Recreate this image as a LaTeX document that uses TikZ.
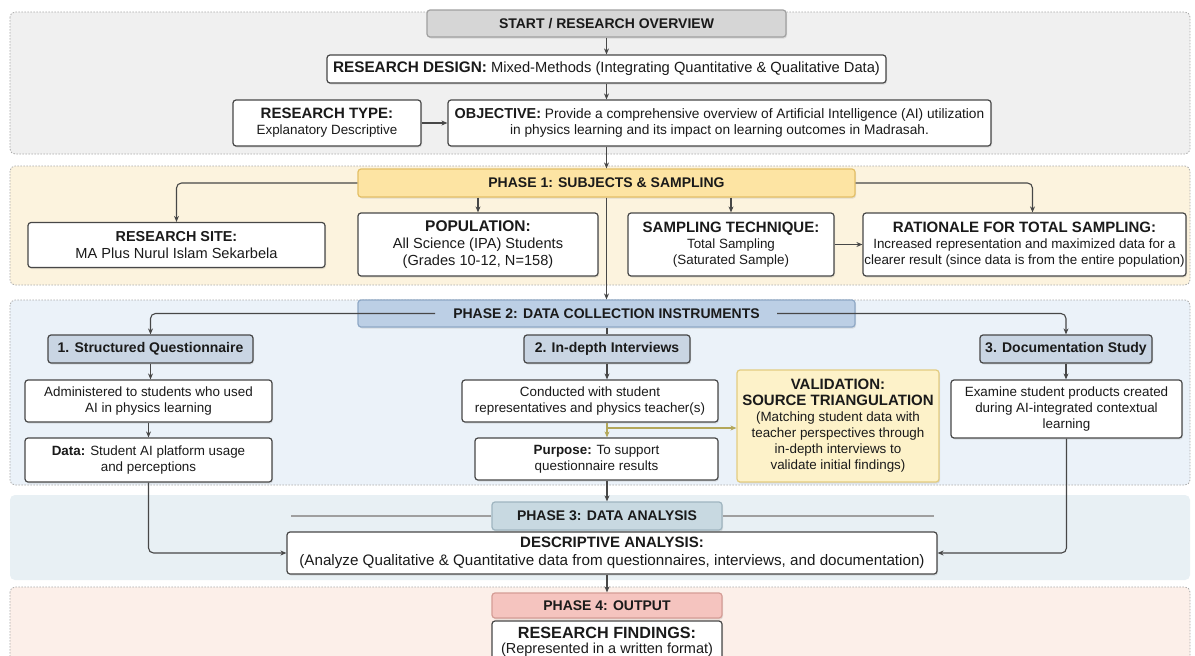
\documentclass[tikz,border=0pt]{standalone}
\usepackage{fontspec}
\setmainfont{Liberation Sans}
\usetikzlibrary{arrows.meta,shadows,calc}
\definecolor{bordc}{HTML}{474747}
\definecolor{pnlA}{HTML}{F0F0F0}
\definecolor{pnlB}{HTML}{FCF3DE}
\definecolor{pnlC}{HTML}{EBF2F9}
\definecolor{pnlD}{HTML}{E8F0F4}
\definecolor{pnlE}{HTML}{FCEFE9}
\definecolor{pnlbrd}{HTML}{ABABAB}
\definecolor{hdrAf}{HTML}{D6D6D6}
\definecolor{hdrAd}{HTML}{A0A0A0}
\definecolor{hdrBf}{HTML}{FDE4A3}
\definecolor{hdrBd}{HTML}{E3BF66}
\definecolor{hdrCf}{HTML}{BCCFE5}
\definecolor{hdrCd}{HTML}{8EA8C6}
\definecolor{hdrDf}{HTML}{C8D9E1}
\definecolor{hdrDd}{HTML}{9FB5C0}
\definecolor{hdrEf}{HTML}{F5C4BF}
\definecolor{hdrEd}{HTML}{D59D96}
\definecolor{subf}{HTML}{C9D5E3}
\definecolor{valf}{HTML}{FDF2C9}
\definecolor{vald}{HTML}{E3CC80}
\definecolor{olivec}{HTML}{B3A75A}
\definecolor{txtc}{HTML}{1A1A1A}
\newcommand\fsreg{\fontsize{13.4}{16}\selectfont}
\newcommand\fsbig{\fontsize{14.6}{17}\selectfont}
\newcommand\fsttl{\fontsize{15}{17}\selectfont\bfseries}
\newcommand\fshdr{\fontsize{14}{16}\selectfont\bfseries}
\begin{document}
\begin{tikzpicture}[x=1pt,y=-1pt,
  panel/.style={draw=pnlbrd, line width=0.8pt, dash pattern=on 1.5pt off 1.5pt, rounded corners=5pt},
  box/.style={draw=bordc, line width=1.2pt, rounded corners=3pt, fill=white, align=center, inner sep=0pt, font=\fsreg, text=txtc,
    drop shadow={opacity=0.2, shadow xshift=1pt, shadow yshift=-1.5pt}},
  hdr/.style={box, font=\fshdr},
  subhdr/.style={box, fill=subf, font=\fshdr},
  arr/.style={draw=bordc, line width=1.1pt, -{Stealth[length=6pt,width=5pt]}, rounded corners=5pt},
  plain/.style={draw=bordc, line width=1.1pt},
  olarr/.style={draw=olivec, line width=1.2pt, -{Stealth[length=6pt,width=5pt]}},
  grayln/.style={draw=gray!75, line width=1.8pt}
]
\useasboundingbox (0,0) rectangle (1195,656);
\clip (0,0) rectangle (1195,656);
\fill[white] (0,0) rectangle (1195,656);
% panels
\filldraw[panel, fill=pnlA] (10,12) rectangle (1190,154);
\filldraw[panel, fill=pnlB] (10,166) rectangle (1190,285);
\filldraw[panel, fill=pnlC] (10,300) rectangle (1190,485);
\fill[pnlD, rounded corners=5pt] (10,495) rectangle (1190,580);
\filldraw[panel, fill=pnlE] (10,587) rectangle (1190,690);

% top block
\node[hdr, fill=hdrAf, draw=hdrAd, minimum width=359pt, minimum height=27pt] (start) at (606.5,23.5) {START / RESEARCH OVERVIEW};
\node[box, font=\fontsize{14.7}{17}\selectfont, minimum width=559pt, minimum height=28pt] (design) at (606.5,69) {{\fontsize{15.3}{17}\selectfont\bfseries RESEARCH DESIGN:} Mixed-Methods (Integrating Quantitative \& Qualitative Data)};
\node[box, minimum width=188pt, minimum height=46pt] (rtype) at (327,123) {{\fsttl RESEARCH TYPE:}\\Explanatory Descriptive};
\node[box, font=\fontsize{13.7}{16}\selectfont, minimum width=543pt, minimum height=46pt] (obj) at (719.5,123) {{\fontsize{14.4}{16}\selectfont\bfseries OBJECTIVE:} Provide a comprehensive overview of Artificial Intelligence (AI) utilization\\in physics learning and its impact on learning outcomes in Madrasah.};

% phase 1
\node[hdr, fill=hdrBf, draw=hdrBd, minimum width=497pt, minimum height=28pt] (pA) at (606.5,183) {PHASE 1: SUBJECTS \& SAMPLING};
\node[box, font=\fsbig, minimum width=297pt, minimum height=45pt] (site) at (176.5,245) {{\fontsize{14.4}{17}\selectfont\bfseries RESEARCH SITE:}\\MA Plus Nurul Islam Sekarbela};
\node[box, font=\fsbig, minimum width=240pt, minimum height=63pt] (pop) at (478,244.5) {{\fontsize{15.5}{17}\selectfont\bfseries POPULATION:}\\All Science (IPA) Students\\(Grades 10-12, N=158)};
\node[box, minimum width=206pt, minimum height=63pt] (samp) at (731,244.5) {{\fsttl SAMPLING TECHNIQUE:}\\Total Sampling\\(Saturated Sample)};
\node[box, minimum width=323pt, minimum height=63pt] (rat) at (1024.5,244.5) {{\fsttl RATIONALE FOR TOTAL SAMPLING:}\\Increased representation and maximized data for a\\clearer result (since data is from the entire population)};

% phase 2
\node[hdr, fill=hdrCf, draw=hdrCd, minimum width=497pt, minimum height=27pt] (pB) at (606.5,313.5) {PHASE 2: DATA COLLECTION INSTRUMENTS};
\node[subhdr, minimum width=205pt, minimum height=28pt] (qone) at (150.5,349) {1. Structured Questionnaire};
\node[subhdr, minimum width=166pt, minimum height=28pt] (intv) at (607,349) {2. In-depth Interviews};
\node[subhdr, minimum width=172pt, minimum height=28pt] (doc) at (1066,349) {3. Documentation Study};
\node[box, minimum width=247pt, minimum height=42pt] (admin) at (148.5,401) {Administered to students who used\\AI in physics learning};
\node[box, minimum width=247pt, minimum height=44pt] (data) at (148.5,460) {{\bfseries Data:} Student AI platform usage\\and perceptions};
\node[box, minimum width=256pt, minimum height=42pt] (cond) at (590,401) {Conducted with student\\representatives and physics teacher(s)};
\node[box, minimum width=243pt, minimum height=42pt] (purp) at (596.5,459) {{\bfseries Purpose:} To support\\questionnaire results};
\node[box, fill=valf, draw=vald, minimum width=202pt, minimum height=112pt] (valid) at (838,426) {{\fsttl VALIDATION:}\\{\fsttl SOURCE TRIANGULATION}\\(Matching student data with\\teacher perspectives through\\in-depth interviews to\\validate initial findings)};
\node[box, minimum width=231pt, minimum height=58pt] (exam) at (1066.5,409) {Examine student products created\\during AI-integrated contextual\\learning};

% phase 3
\node[hdr, fill=hdrDf, draw=hdrDd, minimum width=230pt, minimum height=28pt] (pC) at (607,516) {PHASE 3: DATA ANALYSIS};
\node[box, font=\fontsize{15.2}{18}\selectfont, minimum width=650pt, minimum height=42pt] (desc) at (612,553) {{\fsttl DESCRIPTIVE ANALYSIS:}\\(Analyze Qualitative \& Quantitative data from questionnaires, interviews, and documentation)};

% phase 4
\node[hdr, fill=hdrEf, draw=hdrEd, minimum width=230pt, minimum height=25pt] (pD) at (607,605.5) {PHASE 4: OUTPUT};
\node[box, font=\fontsize{14.5}{14.5}\selectfont, minimum width=230pt, minimum height=42pt] (find) at (607,642) {{\fontsize{16.2}{16}\selectfont\bfseries RESEARCH FINDINGS:}\\(Represented in a written format)};

% helper coordinates (free ends)
\coordinate (pBl) at (435,313.5);
\coordinate (pBr) at (777,313.5);
\coordinate (pCl) at (291,516);
\coordinate (pCr) at (934,516);
\coordinate (tri) at (607,428);

% connectors
\draw[arr] (start.south) -- (start.south |- design.north);
\draw[arr] (design.south) -- (design.south |- obj.north);
\draw[arr] (rtype.east) -- (obj.west);
\draw[arr] (pA.north |- obj.south) -- (pA.north);
\draw[arr] (pA.west) -| (site.north);
\draw[arr] (pop.north |- pA.south) -- (pop.north);
\draw[arr] (samp.north |- pA.south) -- (samp.north);
\draw[arr] (pA.east) -| ([xshift=8pt]rat.north);
\draw[arr] (samp.east) -- (rat.west);
\draw[arr] (pA.south) -- (pB.north);
\draw[arr] (pBl) -| (qone.north);
\draw[arr] (pBr) -| (doc.north);
\draw[plain] (intv.north |- pB.south) -- (intv.north);
\draw[arr] (qone.south) -- (qone.south |- admin.north);
\draw[arr] (admin.south) -- (data.north);
\draw[arr] (intv.south) -- (intv.south |- cond.north);
\draw[olarr] (intv.south |- cond.south) -- (intv.south |- purp.north);
\draw[olarr] (tri) -- (tri -| valid.west);
\draw[arr] (doc.south) -- (doc.south |- exam.north);
\draw[arr] (exam.south) |- (desc.east);
\draw[arr] (data.south) |- (desc.west);
\draw[arr] (pC.north |- purp.south) -- (pC.north);
\draw[grayln] (pC.west) -- (pCl);
\draw[grayln] (pC.east) -- (pCr);
\draw[arr] (pC.south |- desc.south) -- (pD.north);
\end{tikzpicture}
\end{document}
